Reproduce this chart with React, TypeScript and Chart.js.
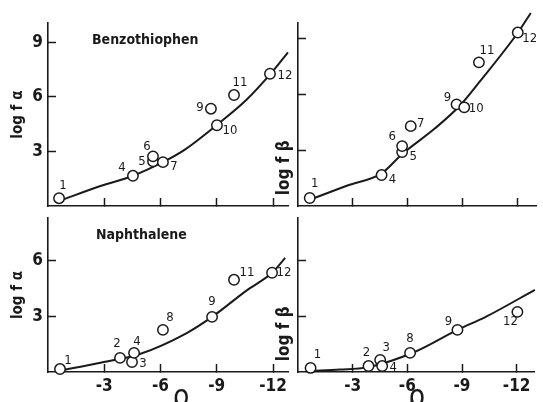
import React, { useEffect, useRef } from 'react';
import { Chart, registerables } from 'chart.js';

Chart.register(...registerables);

// ---------- data ----------
const X_TICKS = [-3, -6, -9, -12];
const Y_TICKS_TOP = [3, 6, 9];
const Y_TICKS_BOTTOM = [3, 6];

// Benzothiophen, log f alpha
const BA_LABELS = ['1', '4', '5', '6', '7', '9', '10', '11', '12'];
const BA_X = [-0.59, -4.53, -5.6, -5.6, -6.13, -8.69, -9.01, -9.92, -11.84];
const BA_Y = [0.43, 1.66, 2.46, 2.73, 2.41, 5.35, 4.44, 6.1, 7.27];
const BA_CURVE_X = [-0.6, -2.8, -4.5, -6.2, -7.3, -9.0, -10.6, -11.9, -12.8];
const BA_CURVE_Y = [0.28, 1.1, 1.65, 2.45, 3.1, 4.45, 5.85, 7.3, 8.45];

// Benzothiophen, log f beta
const BB_LABELS = ['1', '4', '5', '6', '7', '9', '10', '11', '12'];
const BB_X = [-0.64, -4.56, -5.68, -5.68, -6.15, -8.65, -9.07, -9.87, -11.99];
const BB_Y = [0.43, 1.66, 2.89, 3.21, 4.28, 5.45, 5.29, 7.7, 9.3];
const BB_CURVE_X = [-0.64, -2.7, -4.56, -5.7, -7.46, -8.85, -9.9, -12.0, -12.7];
const BB_CURVE_Y = [0.33, 1.1, 1.75, 2.8, 4.15, 5.4, 6.65, 9.3, 10.35];

// Naphthalene, log f alpha
const NA_LABELS = ['1', '2', '3', '4', '8', '9', '11', '12'];
const NA_X = [-0.64, -3.84, -4.48, -4.59, -6.13, -8.75, -9.92, -11.95];
const NA_Y = [0.16, 0.76, 0.54, 1.03, 2.27, 2.97, 4.97, 5.35];
const NA_CURVE_X = [-0.64, -2.8, -4.9, -7.4, -8.75, -10.6, -11.95, -12.65];
const NA_CURVE_Y = [0.08, 0.5, 0.97, 2.1, 2.97, 4.4, 5.35, 6.15];

// Naphthalene, log f beta
const NB_LABELS = ['1', '2', '3', '4', '8', '9', '12'];
const NB_X = [-0.69, -3.87, -4.51, -4.62, -6.15, -8.75, -12.04];
const NB_Y = [0.22, 0.32, 0.65, 0.32, 1.03, 2.27, 3.24];
const NB_CURVE_X = [-0.69, -2.3, -3.8, -6.4, -8.75, -10.3, -13.0];
const NB_CURVE_Y = [0.05, 0.13, 0.25, 1.08, 2.27, 2.97, 4.43];

// ---------- styles ----------
const INK = '#1a1a1a';
const FONT = "'DejaVu Sans Condensed', 'Liberation Sans Narrow', 'Roboto', sans-serif";
const W = 543;
const H = 402;

type Panel = {
  labels: string[];
  x: number[];
  y: number[];
  cx: number[];
  cy: number[];
  offsets: number[][];
  title?: string;
  titleDx?: number;
  titleDy?: number;
  yTitle: string;
  yTitleAlign: 'start' | 'center' | 'end';
  yTitlePad: number;
  yTitleSize: number;
  yTicks: number[];
  yMax: number;
  xMin: number;
  showXLabels: boolean;
  showYLabels: boolean;
  box: { left: number; right: number; top: number; bottom: number };
  yWidth: number;
  xHeight: number;
  xTitleShift: string;
};

const PANELS: Panel[] = [
  {
    labels: BA_LABELS, x: BA_X, y: BA_Y, cx: BA_CURVE_X, cy: BA_CURVE_Y,
    offsets: [[4, -13], [-11, -8], [-11, 0], [-6, -10], [11, 4], [-11, -1], [13, 5], [6, -12], [15, 2]],
    title: 'Benzothiophen', titleDx: 44, titleDy: 17,
    yTitle: 'log f α', yTitleAlign: 'center', yTitlePad: 9, yTitleSize: 15,
    yTicks: Y_TICKS_TOP, yMax: 10.05, xMin: -12.8,
    showXLabels: false, showYLabels: true,
    box: { left: 48, right: 288, top: 18, bottom: 206 }, yWidth: 48, xHeight: 12, xTitleShift: '',
  },
  {
    labels: BB_LABELS, x: BB_X, y: BB_Y, cx: BB_CURVE_X, cy: BB_CURVE_Y,
    offsets: [[5, -14], [11, 5], [11, 5], [-10, -9], [10, -3], [-9, -7], [12, 1], [8, -12], [12, 6]],
    yTitle: '  log f β', yTitleAlign: 'start', yTitlePad: 6, yTitleSize: 17,
    yTicks: Y_TICKS_TOP, yMax: 9.8, xMin: -13,
    showXLabels: false, showYLabels: false,
    box: { left: 298, right: 543, top: 23, bottom: 206 }, yWidth: 30, xHeight: 12, xTitleShift: '',
  },
  {
    labels: NA_LABELS, x: NA_X, y: NA_Y, cx: NA_CURVE_X, cy: NA_CURVE_Y,
    offsets: [[8, -8], [-3, -14], [11, 2], [3, -11], [7, -12], [0, -15], [13, -7], [12, 0]],
    title: 'Naphthalene', titleDx: 48, titleDy: 17,
    yTitle: 'log f α', yTitleAlign: 'center', yTitlePad: 9, yTitleSize: 15,
    yTicks: Y_TICKS_BOTTOM, yMax: 8.3, xMin: -12.8,
    showXLabels: true, showYLabels: true,
    box: { left: 48, right: 288, top: 218, bottom: 372 }, yWidth: 48, xHeight: 30, xTitleShift: '   ',
  },
  {
    labels: NB_LABELS, x: NB_X, y: NB_Y, cx: NB_CURVE_X, cy: NB_CURVE_Y,
    offsets: [[7, -13], [-2, -13], [6, -12], [11, 2], [0, -14], [-9, -8], [-7, 10]],
    yTitle: '  log f β', yTitleAlign: 'start', yTitlePad: 6, yTitleSize: 17,
    yTicks: Y_TICKS_BOTTOM, yMax: 8.3, xMin: -13,
    showXLabels: true, showYLabels: false,
    box: { left: 298, right: 543, top: 218, bottom: 372 }, yWidth: 30, xHeight: 30, xTitleShift: '',
  },
];

const pointLabelPlugin = {
  id: 'pointLabels',
  afterDatasetsDraw(chart: any, _args: any, opts: any) {
    const { ctx, chartArea } = chart;
    const meta = chart.getDatasetMeta(0);
    ctx.save();
    ctx.fillStyle = INK;
    ctx.font = `13px ${FONT}`;
    ctx.textAlign = 'center';
    ctx.textBaseline = 'middle';
    meta.data.forEach((el: any, i: number) => {
      const off = opts.offsets[i] || [0, 0];
      ctx.fillText(opts.labels[i], el.x + off[0], el.y + off[1]);
    });
    if (opts.title) {
      ctx.font = `bold 14px ${FONT}`;
      ctx.textAlign = 'left';
      ctx.fillText(opts.title, chartArea.left + opts.titleDx, chartArea.top + opts.titleDy);
    }
    ctx.restore();
  },
};

function PanelChart({ p }: { p: Panel }) {
  const ref = useRef<HTMLCanvasElement>(null);
  useEffect(() => {
    if (!ref.current) return;
    const points = p.x.map((v, i) => ({ x: v, y: p.y[i] }));
    const curve = p.cx.map((v, i) => ({ x: v, y: p.cy[i] }));
    const chart = new Chart(ref.current, {
      type: 'scatter',
      data: {
        datasets: [
          {
            data: points,
            pointRadius: 5.2,
            pointBorderWidth: 1.5,
            pointBackgroundColor: '#ffffff',
            pointBorderColor: INK,
            showLine: false,
            clip: false,
          } as any,
          {
            data: curve,
            showLine: true,
            pointRadius: 0,
            borderColor: INK,
            borderWidth: 2,
            cubicInterpolationMode: 'monotone',
            clip: false,
          } as any,
        ],
      },
      options: {
        animation: false,
        responsive: false,
        devicePixelRatio: 1,
        events: [],
        layout: {
          padding: {
            left: p.box.left - p.yWidth,
            right: W - p.box.right,
            top: p.box.top,
            bottom: H - p.box.bottom - p.xHeight,
          },
        },
        plugins: {
          legend: { display: false },
          tooltip: { enabled: false },
          pointLabels: { labels: p.labels, offsets: p.offsets, title: p.title, titleDx: p.titleDx, titleDy: p.titleDy },
        } as any,
        scales: {
          x: {
            type: 'linear',
            min: p.xMin,
            max: 0,
            reverse: true,
            afterBuildTicks: (s: any) => { s.ticks = X_TICKS.map((v) => ({ value: v })); },
            afterFit: (s: any) => { s.height = p.xHeight; },
            border: { display: true, color: INK, width: 1.6 },
            grid: { drawOnChartArea: false, drawTicks: true, tickLength: -8, tickColor: INK, tickWidth: 1.5 },
            ticks: {
              color: INK,
              padding: 12,
              font: { family: FONT, size: 17, weight: 'bold' },
              callback: (v: any) => (p.showXLabels ? String(v) : ''),
            },
            title: {
              display: p.showXLabels,
              text: p.xTitleShift + 'ρ',
              color: INK,
              font: { family: FONT, size: 30 },
              padding: { top: 0, bottom: -14 },
            },
          },
          y: {
            type: 'linear',
            min: 0,
            max: p.yMax,
            afterBuildTicks: (s: any) => { s.ticks = p.yTicks.map((v) => ({ value: v })); },
            afterFit: (s: any) => { s.width = p.yWidth; },
            border: { display: true, color: INK, width: 1.6 },
            grid: { drawOnChartArea: false, drawTicks: true, tickLength: -8, tickColor: INK, tickWidth: 1.5 },
            ticks: {
              color: INK,
              padding: 13,
              font: { family: FONT, size: 17, weight: 'bold' },
              callback: (v: any) => (p.showYLabels ? String(v) : ''),
            },
            title: {
              display: true,
              text: p.yTitle,
              color: INK,
              align: p.yTitleAlign,
              font: { family: FONT, size: p.yTitleSize, weight: 'bold' },
              padding: { top: p.yTitlePad, bottom: 0 },
            },
          },
        },
      } as any,
      plugins: [pointLabelPlugin as any],
    });
    return () => chart.destroy();
  }, [p]);
  return (
    <canvas
      ref={ref}
      width={W}
      height={H}
      style={{ position: 'absolute', left: 0, top: 0, width: W, height: H }}
    />
  );
}

export default function App() {
  return (
    <div style={{ position: 'fixed', left: 0, top: 0, width: W, height: H, background: '#ffffff', overflow: 'hidden' }}>
      {PANELS.map((p, i) => (
        <PanelChart key={i} p={p} />
      ))}
    </div>
  );
}
